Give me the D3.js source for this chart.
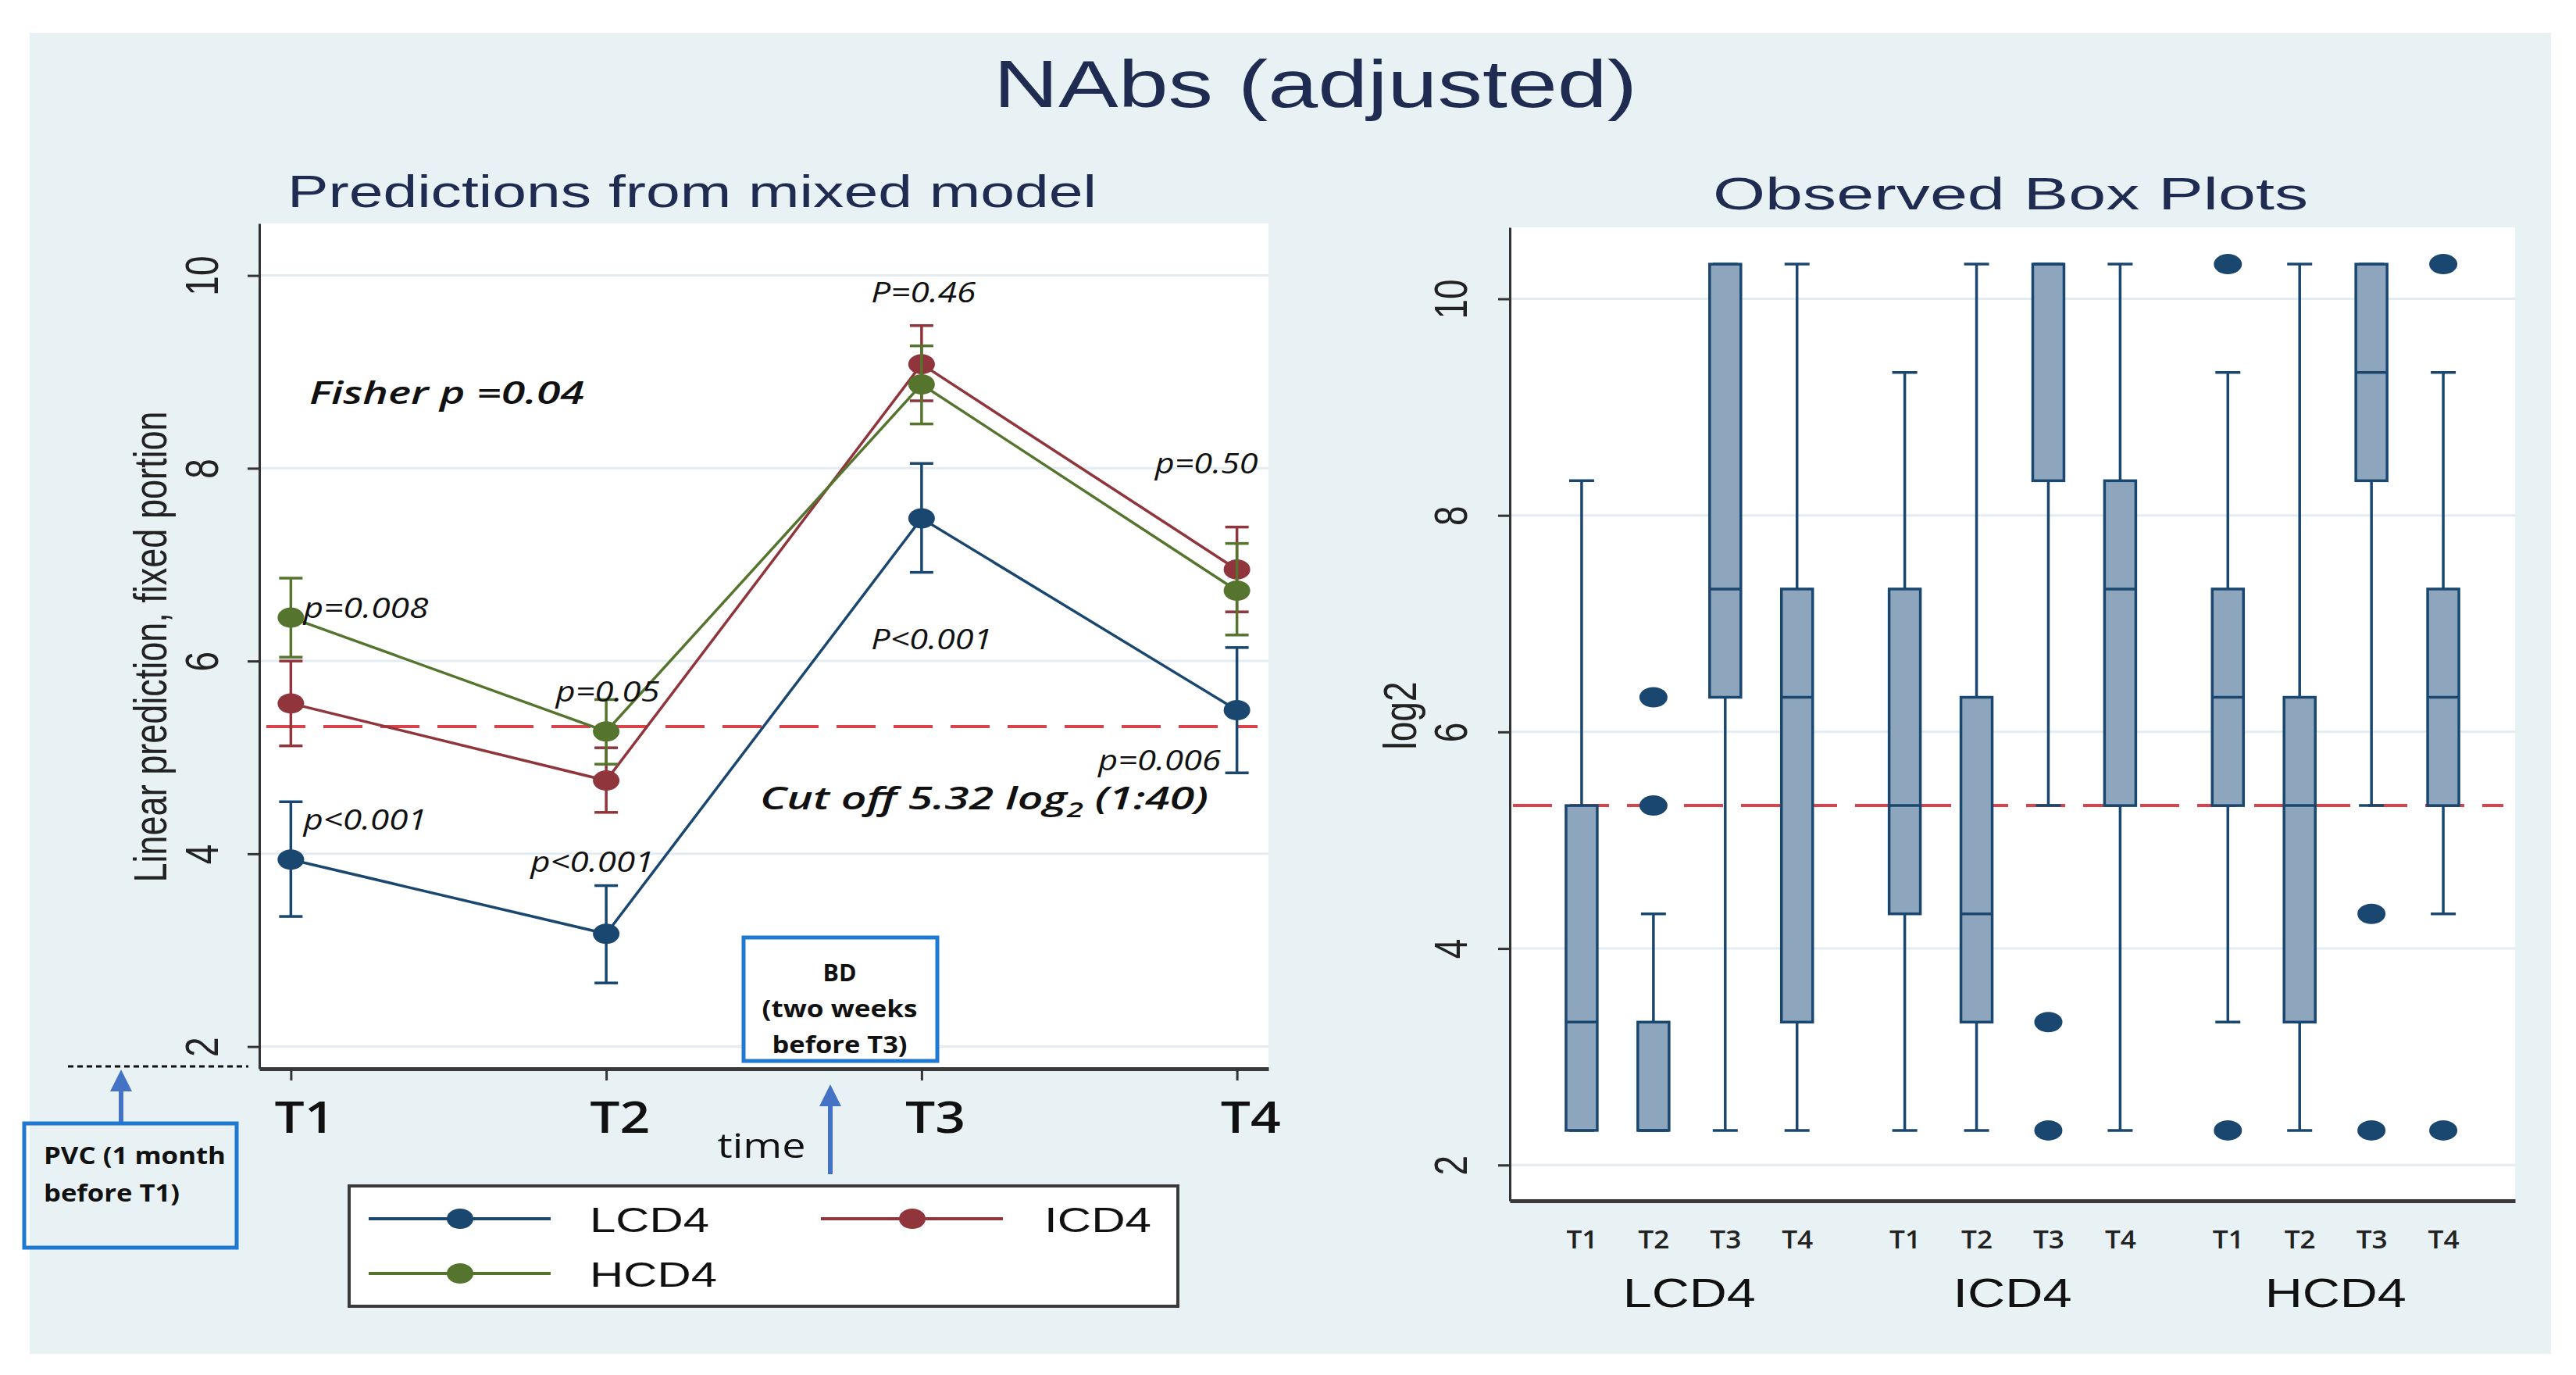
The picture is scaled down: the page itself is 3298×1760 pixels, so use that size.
<!DOCTYPE html>
<html>
<head>
<meta charset="utf-8">
<script src="https://cdn.jsdelivr.net/npm/d3@7"></script>
<style>
  body { margin: 0; background: #ffffff; }
</style>
</head>
<body>
<div id="chart"></div>
<script>
// ---- data ----
var times = ["T1", "T2", "T3", "T4"];
var groups = ["LCD4", "ICD4", "HCD4"];
var yTicks = [2, 4, 6, 8, 10];
var cutoff = 5.32;

// predictions from mixed model (mean, lower CI, upper CI)
var lcd4Mean = [3.94, 3.17, 7.48, 5.49];
var lcd4Lo   = [3.35, 2.66, 6.92, 4.84];
var lcd4Hi   = [4.54, 3.67, 8.05, 6.14];
var icd4Mean = [5.56, 4.76, 9.08, 6.95];
var icd4Lo   = [5.12, 4.43, 8.70, 6.51];
var icd4Hi   = [6.00, 5.10, 9.48, 7.39];
var hcd4Mean = [6.45, 5.27, 8.87, 6.73];
var hcd4Lo   = [6.04, 4.93, 8.46, 6.27];
var hcd4Hi   = [6.86, 5.60, 9.27, 7.22];

// observed box plots: [lower whisker, q1, median, q3, upper whisker]
var lcd4Box = [[2.32, 2.32, 3.32, 5.32, 8.32], [2.32, 2.32, 2.32, 3.32, 4.32], [2.32, 6.32, 7.32, 10.32, 10.32], [2.32, 3.32, 6.32, 7.32, 10.32]];
var icd4Box = [[2.32, 4.32, 5.32, 7.32, 9.32], [2.32, 3.32, 4.32, 6.32, 10.32], [5.32, 8.32, 10.32, 10.32, 10.32], [2.32, 5.32, 7.32, 8.32, 10.32]];
var hcd4Box = [[3.32, 5.32, 6.32, 7.32, 9.32], [2.32, 3.32, 5.32, 6.32, 10.32], [5.32, 8.32, 9.32, 10.32, 10.32], [4.32, 5.32, 6.32, 7.32, 9.32]];
var lcd4Out = [[], [5.32, 6.32], [], []];
var icd4Out = [[], [], [3.32, 2.32], []];
var hcd4Out = [[2.32, 10.32], [], [4.32, 2.32], [2.32, 10.32]];

// p-value notes on the left panel (position in data units)
var pNotes = [
  {t: "P=0.46",  x: 2.84, y: 9.72},
  {t: "p=0.50",  x: 3.74, y: 7.95},
  {t: "p=0.008", x: 1.04, y: 6.45},
  {t: "p=0.05",  x: 1.84, y: 5.58},
  {t: "P<0.001", x: 2.84, y: 6.12},
  {t: "p=0.006", x: 3.56, y: 4.87},
  {t: "p<0.001", x: 1.04, y: 4.25},
  {t: "p<0.001", x: 1.76, y: 3.81}
];
var pLens = [134, 132, 160, 133, 155, 157, 158, 158];

var NAVY = "#1a476f", MAROON = "#90353b", GREEN = "#55752f";
var series = [
  {name: "LCD4", color: NAVY,   mean: lcd4Mean, lo: lcd4Lo, hi: lcd4Hi},
  {name: "ICD4", color: MAROON, mean: icd4Mean, lo: icd4Lo, hi: icd4Hi},
  {name: "HCD4", color: GREEN,  mean: hcd4Mean, lo: hcd4Lo, hi: hcd4Hi}
];
var boxes = [lcd4Box, icd4Box, hcd4Box];
var outs = [lcd4Out, icd4Out, hcd4Out];

var W = 3298, H = 1760;
var ARIAL = "'Liberation Sans', Arial, sans-serif";
var CAL = "'Open Sans', 'Liberation Sans', sans-serif";

var svg = d3.select("#chart").append("svg")
    .attr("width", W)
    .attr("height", H);

function txt(g, s, x, y, o) {
  var t = g.append("text")
      .attr("transform", "translate(" + x + "," + y + ")" + (o.rot ? " scale(1.3,1) rotate(-90)" : ""))
      .attr("font-family", o.family || ARIAL)
      .attr("font-size", o.fs)
      .attr("text-anchor", o.anchor || "start")
      .attr("fill", o.fill || "#111")
      .text(s);
  if (o.len) t.attr("textLength", o.len).attr("lengthAdjust", "spacingAndGlyphs");
  if (o.weight) t.attr("font-weight", o.weight);
  if (o.italic) t.attr("font-style", "italic");
  if (o.dy) t.attr("dy", o.dy);
  return t;
}

// outer panel
svg.append("rect")
    .attr("x", 38).attr("y", 42)
    .attr("width", 3228).attr("height", 1691)
    .attr("fill", "#e8f1f3");

txt(svg, "NAbs (adjusted)", 1684, 137, {fs: 86, len: 824, anchor: "middle", fill: "#1f2b50"});

// ================= left panel: predictions =================
var L = {x0: 332, x1: 1624, y0: 286, y1: 1368};
var x = d3.scaleLinear().domain([0.9, 4.1]).range([L.x0, L.x1]);
var y = d3.scaleLinear().domain([1.77, 10.54]).range([L.y1, L.y0]);

txt(svg, "Predictions from mixed model", 886, 265, {fs: 58, len: 1036, anchor: "middle", fill: "#1f2b50"});

var left = svg.append("g");
left.append("rect")
    .attr("x", L.x0).attr("y", L.y0)
    .attr("width", L.x1 - L.x0).attr("height", L.y1 - L.y0)
    .attr("fill", "#ffffff");

left.selectAll(".grid")
  .data(yTicks)
  .enter()
    .append("line")
      .attr("x1", L.x0).attr("x2", L.x1)
      .attr("y1", function(d) { return y(d); })
      .attr("y2", function(d) { return y(d); })
      .attr("stroke", "#e3edf1")
      .attr("stroke-width", 3);

left.append("line")
    .attr("x1", L.x0 + 9).attr("x2", L.x1 - 14)
    .attr("y1", y(cutoff)).attr("y2", y(cutoff))
    .attr("stroke", "#d9434c")
    .attr("stroke-width", 4)
    .attr("stroke-dasharray", "50,23");

var line = d3.line()
    .x(function(d, i) { return x(i + 1); })
    .y(function(d) { return y(d); });

series.forEach(function(s) {
  var g = left.append("g");
  g.append("path")
      .attr("d", line(s.mean))
      .attr("fill", "none")
      .attr("stroke", s.color)
      .attr("stroke-width", 3.5);
  s.mean.forEach(function(m, i) {
    g.append("line")
        .attr("x1", x(i + 1)).attr("x2", x(i + 1))
        .attr("y1", y(s.lo[i])).attr("y2", y(s.hi[i]))
        .attr("stroke", s.color).attr("stroke-width", 3.5);
    [s.lo[i], s.hi[i]].forEach(function(v) {
      g.append("line")
          .attr("x1", x(i + 1) - 15).attr("x2", x(i + 1) + 15)
          .attr("y1", y(v)).attr("y2", y(v))
          .attr("stroke", s.color).attr("stroke-width", 3.5);
    });
    g.append("ellipse")
        .attr("cx", x(i + 1)).attr("cy", y(m))
        .attr("rx", 17).attr("ry", 13)
        .attr("fill", s.color);
  });
});

// axes
var yAxisL = d3.axisLeft(y).tickValues(yTicks).tickSize(15).tickSizeOuter(0);
var gyL = left.append("g")
    .attr("transform", "translate(" + L.x0 + ",0)")
    .call(yAxisL);
gyL.select(".domain").attr("stroke", "#333").attr("stroke-width", 3);
gyL.selectAll(".tick line").attr("stroke", "#333").attr("stroke-width", 3);
gyL.selectAll(".tick text")
    .attr("x", null).attr("dy", "0.35em")
    .attr("transform", "translate(-74,0) scale(1.3,1) rotate(-90)")
    .attr("text-anchor", "middle")
    .attr("font-family", ARIAL).attr("font-size", 46).attr("fill", "#222");

var xAxisL = d3.axisBottom(x).tickValues([1, 2, 3, 4]).tickSize(15).tickSizeOuter(0)
    .tickFormat(function(d) { return times[d - 1]; });
var gxL = left.append("g")
    .attr("transform", "translate(0," + L.y1 + ")")
    .call(xAxisL);
gxL.select(".domain").attr("stroke", "#3a3a3a").attr("stroke-width", 5);
gxL.selectAll(".tick line").attr("stroke", "#333").attr("stroke-width", 3);
gxL.selectAll(".tick text")
    .attr("y", 82).attr("x", 17).attr("dy", 0)
    .attr("font-family", CAL).attr("font-size", 56).attr("font-weight", 600).attr("fill", "#111")
    .attr("textLength", 77).attr("lengthAdjust", "spacingAndGlyphs");

txt(svg, "Linear prediction, fixed portion", 193, 828, {fs: 45, len: 603, anchor: "middle", rot: true, dy: "0.35em", fill: "#222"});
txt(svg, "time", 975, 1482, {fs: 44, len: 113, anchor: "middle", family: CAL});

// notes
txt(left, "Fisher p =0.04", 396, 517, {fs: 40, len: 352, family: CAL, weight: 600, italic: true});
pNotes.forEach(function(p, i) {
  txt(left, p.t, x(p.x), y(p.y), {fs: 36, len: pLens[i], family: CAL, italic: true});
});
var cut = left.append("text")
    .attr("transform", "translate(973,1036)")
    .attr("font-family", CAL).attr("font-size", 40)
    .attr("font-weight", 600).attr("font-style", "italic")
    .attr("fill", "#111")
    .attr("textLength", 574).attr("lengthAdjust", "spacingAndGlyphs");
cut.append("tspan").text("Cut off " + cutoff.toFixed(2) + " log");
cut.append("tspan").attr("font-size", 27).attr("dy", 10).text("2");
cut.append("tspan").attr("dy", -10).text(" (1:40)");

// BD box and arrow
var BLUE = "#1f78d1", ARROW = "#4472c4";
left.append("rect")
    .attr("x", 952).attr("y", 1200).attr("width", 248).attr("height", 158)
    .attr("fill", "#ffffff").attr("stroke", BLUE).attr("stroke-width", 5);
txt(left, "BD", 1075, 1256, {fs: 31, len: 43, anchor: "middle", family: CAL, weight: "bold"});
txt(left, "(two weeks", 1075, 1302, {fs: 31, len: 199, anchor: "middle", family: CAL, weight: "bold"});
txt(left, "before T3)", 1075, 1348, {fs: 31, len: 173, anchor: "middle", family: CAL, weight: "bold"});

function arrow(g, ax, yTop, yBot) {
  g.append("line")
      .attr("x1", ax).attr("x2", ax)
      .attr("y1", yBot).attr("y2", yTop + 22)
      .attr("stroke", ARROW).attr("stroke-width", 6);
  g.append("path")
      .attr("d", "M" + ax + "," + yTop + " L" + (ax - 14) + "," + (yTop + 28) + " L" + (ax + 14) + "," + (yTop + 28) + " Z")
      .attr("fill", ARROW);
}
arrow(svg, 1063, 1388, 1503);

// PVC note
svg.append("line")
    .attr("x1", 87).attr("x2", 318)
    .attr("y1", 1365).attr("y2", 1365)
    .attr("stroke", "#111").attr("stroke-width", 3)
    .attr("stroke-dasharray", "7,5");
arrow(svg, 155, 1369, 1437);
svg.append("rect")
    .attr("x", 31).attr("y", 1438).attr("width", 272).attr("height", 159)
    .attr("fill", "none").attr("stroke", BLUE).attr("stroke-width", 5);
txt(svg, "PVC (1 month", 56, 1490, {fs: 31, len: 233, family: CAL, weight: "bold"});
txt(svg, "before T1)", 56, 1538, {fs: 31, len: 174, family: CAL, weight: "bold"});

// legend
var leg = svg.append("g");
leg.append("rect")
    .attr("x", 447).attr("y", 1518).attr("width", 1061).attr("height", 154)
    .attr("fill", "#ffffff").attr("stroke", "#3a3a3a").attr("stroke-width", 4);
var legPos = [{lx: 472, ly: 1560, tx: 755, len: 153}, {lx: 1051, ly: 1560, tx: 1337, len: 137}, {lx: 472, ly: 1630, tx: 755, len: 163}];
series.forEach(function(s, i) {
  var p = legPos[i];
  leg.append("line")
      .attr("x1", p.lx).attr("x2", p.lx + 233)
      .attr("y1", p.ly).attr("y2", p.ly)
      .attr("stroke", s.color).attr("stroke-width", 4);
  leg.append("ellipse")
      .attr("cx", p.lx + 117).attr("cy", p.ly)
      .attr("rx", 17).attr("ry", 13)
      .attr("fill", s.color);
  txt(leg, s.name, p.tx, p.ly + 17, {fs: 44, len: p.len, fill: "#111"});
});

// ================= right panel: box plots =================
var R = {x0: 1933, x1: 3220, y0: 291, y1: 1537};
var bx = d3.scaleLinear().domain([-1, 13]).range([R.x0, R.x1]);
var by = d3.scaleLinear().domain([1.67, 10.66]).range([R.y1, R.y0]);
function slot(g, t) { return g * 4.5 + t; }

txt(svg, "Observed Box Plots", 2574, 268, {fs: 58, len: 762, anchor: "middle", fill: "#1f2b50"});

var right = svg.append("g");
right.append("rect")
    .attr("x", R.x0).attr("y", R.y0)
    .attr("width", R.x1 - R.x0).attr("height", R.y1 - R.y0)
    .attr("fill", "#ffffff");
right.selectAll(".grid")
  .data(yTicks)
  .enter()
    .append("line")
      .attr("x1", R.x0).attr("x2", R.x1)
      .attr("y1", function(d) { return by(d); })
      .attr("y2", function(d) { return by(d); })
      .attr("stroke", "#e3edf1")
      .attr("stroke-width", 3);
right.append("line")
    .attr("x1", R.x0 + 4).attr("x2", R.x1 - 15)
    .attr("y1", by(cutoff)).attr("y2", by(cutoff))
    .attr("stroke", "#d9434c")
    .attr("stroke-width", 4)
    .attr("stroke-dasharray", "50,23");

var BW = 40;
boxes.forEach(function(grp, g) {
  grp.forEach(function(b, t) {
    var cx = bx(slot(g, t));
    var gb = right.append("g");
    gb.append("line")
        .attr("x1", cx).attr("x2", cx)
        .attr("y1", by(b[0])).attr("y2", by(b[4]))
        .attr("stroke", NAVY).attr("stroke-width", 3.5);
    [b[0], b[4]].forEach(function(v) {
      gb.append("line")
          .attr("x1", cx - 16).attr("x2", cx + 16)
          .attr("y1", by(v)).attr("y2", by(v))
          .attr("stroke", NAVY).attr("stroke-width", 3.5);
    });
    gb.append("rect")
        .attr("x", cx - BW / 2).attr("width", BW)
        .attr("y", by(b[3])).attr("height", by(b[1]) - by(b[3]))
        .attr("fill", "#8ea6bd").attr("stroke", NAVY).attr("stroke-width", 3.5);
    gb.append("line")
        .attr("x1", cx - BW / 2).attr("x2", cx + BW / 2)
        .attr("y1", by(b[2])).attr("y2", by(b[2]))
        .attr("stroke", NAVY).attr("stroke-width", 3.5);
    outs[g][t].forEach(function(v) {
      gb.append("ellipse")
          .attr("cx", cx).attr("cy", by(v))
          .attr("rx", 18).attr("ry", 13)
          .attr("fill", NAVY);
    });
  });
});

var yAxisR = d3.axisLeft(by).tickValues(yTicks).tickSize(15).tickSizeOuter(0);
var gyR = right.append("g")
    .attr("transform", "translate(" + R.x0 + ",0)")
    .call(yAxisR);
gyR.select(".domain").attr("stroke", "#333").attr("stroke-width", 3);
gyR.selectAll(".tick line").attr("stroke", "#333").attr("stroke-width", 3);
gyR.selectAll(".tick text")
    .attr("x", null).attr("dy", "0.35em")
    .attr("transform", "translate(-76,0) scale(1.3,1) rotate(-90)")
    .attr("text-anchor", "middle")
    .attr("font-family", ARIAL).attr("font-size", 46).attr("fill", "#222");

var slots = [], slotLab = [];
groups.forEach(function(gname, g) {
  times.forEach(function(tname, t) { slots.push(slot(g, t)); slotLab.push(tname); });
});
var xAxisR = d3.axisBottom(bx).tickValues(slots).tickSize(0).tickSizeOuter(0)
    .tickFormat(function(d, i) { return slotLab[i]; });
var gxR = right.append("g")
    .attr("transform", "translate(0," + R.y1 + ")")
    .call(xAxisR);
gxR.select(".domain").attr("stroke", "#3a3a3a").attr("stroke-width", 5);
gxR.selectAll(".tick text")
    .attr("y", 61).attr("dy", 0)
    .attr("font-family", CAL).attr("font-size", 32).attr("font-weight", 600).attr("fill", "#222")
    .attr("textLength", 40).attr("lengthAdjust", "spacingAndGlyphs");

var gLens = [170, 152, 181];
groups.forEach(function(gname, g) {
  txt(right, gname, bx(slot(g, 1.5)), 1673, {fs: 51, len: gLens[g], anchor: "middle", fill: "#111"});
});

txt(svg, "log2", 1793, 916, {fs: 45, len: 87, anchor: "middle", rot: true, dy: "0.35em", fill: "#222"});
</script>
</body>
</html>
